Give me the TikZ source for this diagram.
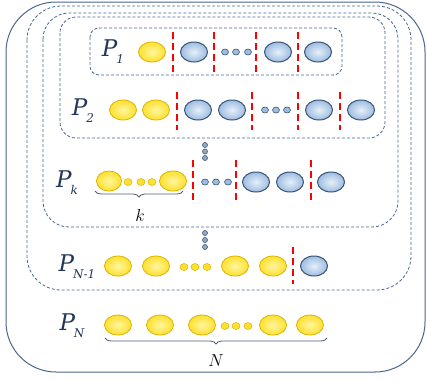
\documentclass[tikz,border=0pt]{standalone}
\usepackage{fontspec}
\newfontfamily\labfont{DejaVu Serif}
\usetikzlibrary{shapes.geometric,decorations.pathreplacing}
\definecolor{ybord}{HTML}{D9B400}
\definecolor{yin}{HTML}{FFF6A0}
\definecolor{yout}{HTML}{FFE02E}
\definecolor{bbord}{HTML}{3A5478}
\definecolor{bin}{HTML}{E6F0FA}
\definecolor{bout}{HTML}{9DBCE0}
\definecolor{boxc}{HTML}{4A6690}
\definecolor{labc}{HTML}{22365A}
\newcommand{\Plab}[1]{P\kern-1pt\raisebox{-7pt}{\fontsize{12}{14}\selectfont #1}}
\tikzset{
  yb/.style={ellipse, draw=ybord, line width=0.8pt, inner color=yin, outer color=yout, minimum width=27pt, minimum height=20pt, inner sep=0pt},
  bb/.style={ellipse, draw=bbord, line width=1pt, inner color=bin, outer color=bout, minimum width=27pt, minimum height=20pt, inner sep=0pt},
  ydot/.style={ellipse, draw=ybord, line width=0.5pt, fill=yout, minimum width=8pt, minimum height=7pt, inner sep=0pt},
  bdot/.style={ellipse, draw=bbord, line width=0.6pt, fill=bout, minimum width=7pt, minimum height=6pt, inner sep=0pt},
  vdot/.style={ellipse, draw=bbord, line width=0.6pt, fill=bout!70!gray, minimum width=5pt, minimum height=5pt, inner sep=0pt},
  rcut/.style={red, line width=2.2pt, dash pattern=on 7pt off 4pt},
  dbox/.style={draw=boxc, dash pattern=on 3pt off 2pt, line width=0.8pt},
  lab/.style={text=labc, font=\labfont\itshape\fontsize{23}{27}\selectfont, inner sep=0pt},
  blab/.style={text=black, font=\fontsize{18}{20}\selectfont, inner sep=0pt},
  brc/.style={draw=labc!80, line width=0.8pt, decorate, decoration={brace, mirror, amplitude=6pt}}
}
\begin{document}
\begin{tikzpicture}[x=1pt,y=-1pt]
\useasboundingbox (0,0) rectangle (427,381);
% boxes
\draw[draw=boxc, line width=1pt, rounded corners=50pt] (6,2) rectangle (425,372);
\draw[dbox, rounded corners=34pt] (27,6) rectangle (411,290);
\draw[dbox, rounded corners=26pt] (43,13) rectangle (398,227);
\draw[dbox, rounded corners=16pt] (60,17) rectangle (385,138);
\draw[dbox, rounded corners=9pt] (90,28) rectangle (342,75);

% P1 row
\node[lab] (l1) at (113,52) {\Plab{1}};
\node[yb] (a1) at (152,52) {};
\node[bb] (a2) at (194,52) {};
\node[bdot] (a3) at (225,52) {};
\node[bdot] (a4) at (236,52) {};
\node[bdot] (a5) at (248,52) {};
\node[bb] (a6) at (278,52) {};
\node[bb] (a7) at (318,52) {};
\foreach \x in {173,214,256,298} \draw[rcut] (\x,32) -- (\x,73);

% P2 row
\node[lab] (l2) at (83,111) {\Plab{2}};
\node[yb] (b1) at (123,110) {};
\node[yb] (b2) at (156,110) {};
\node[bb] (b3) at (198,110) {};
\node[bb] (b4) at (232,110) {};
\node[bdot] (b5) at (265,110) {};
\node[bdot] (b6) at (276,110) {};
\node[bdot] (b7) at (287,110) {};
\node[bb] (b8) at (319,110) {};
\node[bb] (b9) at (361,110) {};
\foreach \x in {177,252,298,340} \draw[rcut] (\x,92) -- (\x,130);

% vertical dots
\foreach \y [count=\i] in {145,151.5,158} \node[vdot] (v\i) at (205,\y) {};

% Pk row
\node[lab] (lk) at (67,183) {\Plab{k}};
\node[yb, minimum width=25pt] (c1) at (109,181) {};
\node[ydot] (c2) at (128,182) {};
\node[ydot] (c3) at (141,182) {};
\node[ydot] (c4) at (152,182) {};
\node[yb] (c5) at (173,181) {};
\node[bdot] (c6) at (205,182) {};
\node[bdot] (c7) at (216,182) {};
\node[bdot] (c8) at (228,182) {};
\node[bb] (c9) at (256,182) {};
\node[bb] (c10) at (290,182) {};
\node[bb] (c11) at (331,182) {};
\foreach \x in {193,236,311} \draw[rcut] (\x,160) -- (\x,200);
\draw[brc] (95,191) -- (183,191);
\node[blab] (kk) at (140,215) {$k$};

% vertical dots
\foreach \y [count=\i] in {233,240,247} \node[vdot] (w\i) at (205,\y) {};

% PN-1 row
\node[lab] (lm) at (77,267) {\Plab{N-1}};
\node[yb] (d1) at (118,266) {};
\node[yb] (d2) at (156,266) {};
\node[ydot] (d3) at (184,267) {};
\node[ydot] (d4) at (195,267) {};
\node[ydot] (d5) at (207,267) {};
\node[yb] (d6) at (235,266) {};
\node[yb] (d7) at (273,266) {};
\node[bb] (d8) at (314,266) {};
\draw[rcut] (293,247) -- (293,284);

% PN row
\node[lab] (ln) at (72,326) {\Plab{N}};
\node[yb] (e1) at (118,325) {};
\node[yb] (e2) at (160,325) {};
\node[yb] (e3) at (202,325) {};
\node[ydot] (e4) at (225,326) {};
\node[ydot] (e5) at (236,326) {};
\node[ydot] (e6) at (248,326) {};
\node[yb] (e7) at (273,325) {};
\node[yb] (e8) at (310,325) {};
\draw[brc] (105,338) -- (327,338);
\node[blab] (nn) at (216,361) {$N$};
\end{tikzpicture}
\end{document}
